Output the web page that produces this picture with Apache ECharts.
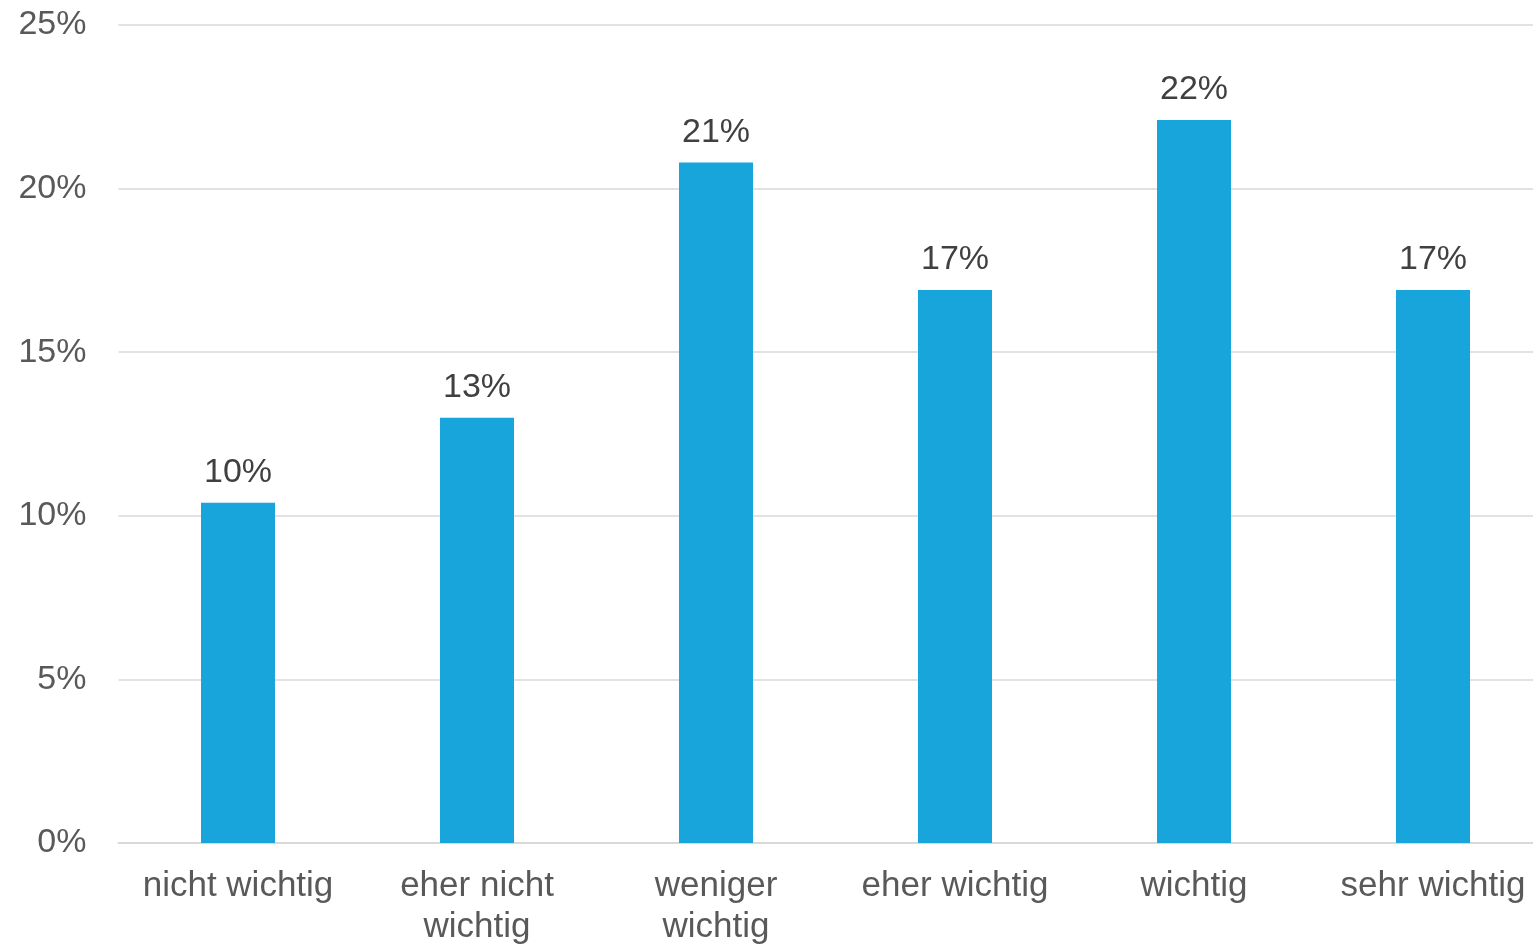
<!DOCTYPE html>
<html>
<head>
<meta charset="utf-8">
<script src="https://cdn.jsdelivr.net/npm/echarts@6/dist/echarts.min.js"></script>
<style>
html,body{margin:0;padding:0;background:#fff;}
#chart{width:1533px;height:944px;}
</style>
</head>
<body>
<div id="chart"></div>
<script>
const categories = ['nicht wichtig', 'eher nicht\nwichtig', 'weniger\nwichtig', 'eher wichtig', 'wichtig', 'sehr wichtig'];
const values = [10.4, 13.0, 20.8, 16.9, 22.1, 16.9];
const yTicks = [0, 5, 10, 15, 20, 25];

const chart = echarts.init(document.getElementById('chart'));
chart.setOption({
  animation: false,
  backgroundColor: '#ffffff',
  grid: { left: 118.5, width: 1434, top: 25, height: 818, containLabel: false, outerBoundsMode: 'none' },
  xAxis: {
    type: 'category',
    data: categories,
    axisTick: { show: false },
    axisLine: { lineStyle: { color: '#d9d9d9', width: 2 } },
    axisLabel: {
      color: '#595959',
      fontFamily: 'Liberation Sans, Arial, sans-serif',
      fontSize: 35,
      lineHeight: 41,
      margin: 23,
      interval: 0
    }
  },
  yAxis: {
    type: 'value',
    min: yTicks[0],
    max: yTicks[yTicks.length - 1],
    interval: 5,
    axisLine: { show: false },
    axisTick: { show: false },
    splitLine: { lineStyle: { color: '#d9d9d9', width: 1.5 } },
    axisLabel: {
      color: '#595959',
      fontFamily: 'Liberation Sans, Arial, sans-serif',
      fontSize: 34,
      margin: 32,
      padding: [4, 0, 0, 0],
      formatter: v => v + '%'
    }
  },
  series: [{
    type: 'bar',
    data: values,
    barWidth: 74,
    itemStyle: { color: '#17A5DC' },
    label: {
      show: true,
      position: 'top',
      distance: 13,
      color: '#404040',
      fontFamily: 'Liberation Sans, Arial, sans-serif',
      fontSize: 34,
      formatter: p => Math.round(p.value) + '%'
    }
  }]
});
</script>
</body>
</html>
